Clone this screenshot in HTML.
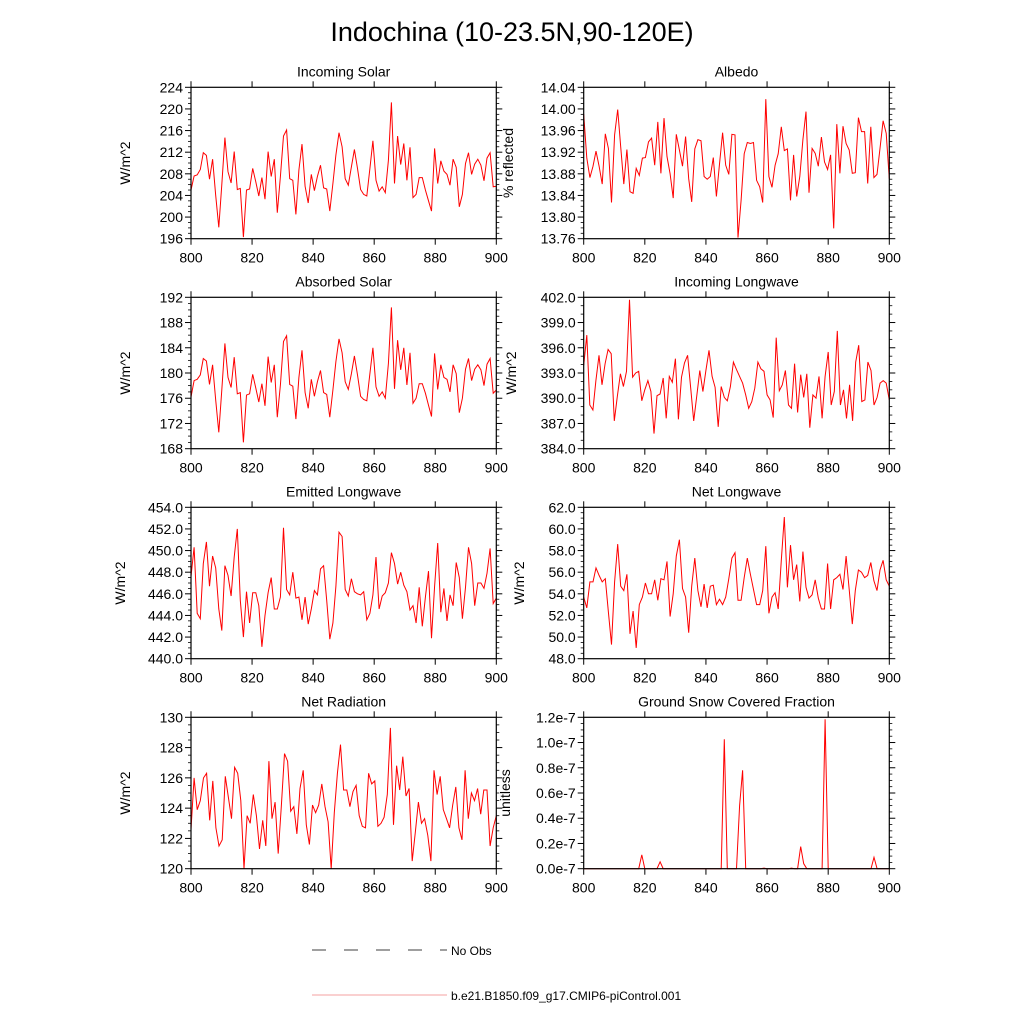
<!DOCTYPE html>
<html><head><meta charset="utf-8"><style>
html,body{margin:0;padding:0;background:#fff;}
svg{display:block;font-family:"Liberation Sans",sans-serif;}
</style></head><body>
<svg id="chart" width="1024" height="1024" viewBox="0 0 1024 1024">
<text x="512" y="41" font-size="27" text-anchor="middle">Indochina (10-23.5N,90-120E)</text>
<g>
<line x1="312" y1="950" x2="447" y2="950" stroke="#000" stroke-width="0.8" stroke-dasharray="14,18"/>
<text x="451" y="955" font-size="12">No Obs</text>
<line x1="312" y1="995" x2="447" y2="995" stroke="#f08080" stroke-width="0.8"/>
<text x="451" y="1000" font-size="12">b.e21.B1850.f09_g17.CMIP6-piControl.001</text>
</g>
</svg>
<script>
const xTicks=[800,820,840,860,880,900];
const incomingSolar=[205.0,207.6,207.8,208.8,211.9,211.4,207.0,210.7,204,198.1,206,214.7,208.4,206.3,212.1,205.1,205.3,196.3,205.0,205.2,209,206.5,203.9,207.3,203.3,212.1,207.5,210.7,200.8,207.5,215,216.1,207.1,206.8,200.5,208.7,213.5,205.7,202.6,207.9,204.9,207.5,209.6,205.4,205.2,201.1,206.2,211.5,215.6,213,207.1,205.9,209.3,212.5,209,205.1,204.2,203.9,209,214.1,206.8,204.8,205.6,204.5,210.5,221.2,206.2,215,209.7,213.6,206.8,212.9,203.6,204.2,207.3,207.3,205,203,201.1,212.7,206.2,210.4,208.5,207.9,205.9,210.7,209.2,201.9,204.2,209.9,211.9,207.9,209.8,210.7,209.6,206.7,210.9,211.9,205.6,205.7];
const albedo=[13.99,13.909,13.873,13.894,13.922,13.894,13.861,13.954,13.927,13.827,13.952,13.999,13.930,13.861,13.925,13.847,13.844,13.89,13.877,13.909,13.91,13.939,13.946,13.896,13.976,13.881,13.983,13.912,13.880,13.835,13.953,13.924,13.894,13.949,13.871,13.828,13.926,13.943,13.941,13.875,13.87,13.875,13.91,13.838,13.898,13.956,13.896,13.879,13.953,13.952,13.762,13.831,13.917,13.938,13.936,13.938,13.868,13.856,13.827,14.018,13.875,13.855,13.896,13.917,13.967,13.923,13.926,13.831,13.915,13.838,13.875,13.943,13.995,13.845,13.927,13.918,13.894,13.948,13.902,13.888,13.915,13.779,13.972,13.881,13.968,13.936,13.924,13.881,13.882,13.984,13.958,13.958,13.862,13.967,13.873,13.879,13.927,13.978,13.955,13.871];
const absorbedSolar=[176.2,178.8,179,179.7,182.3,181.9,178.2,181.3,175.7,170.6,177.3,184.7,179.3,177.7,182.5,176.7,176.9,169,176.5,176.7,179.8,177.6,175.4,178.3,174.8,182.6,178.5,181.3,173,178.1,185,185.9,178.2,177.9,172.7,179.3,183.6,176.9,174.4,179,176.3,178.6,180.4,176.9,176.6,173,177.3,181.8,185.4,183.2,178.6,177.4,179.9,182.7,179.7,176.3,175.8,175.6,179.9,184,177.8,176.3,177,176,181.5,190.4,177.5,185.2,180.5,184,178.1,183.2,175.2,176,178.3,178.3,176.8,174.9,173.1,183.1,177.4,181.3,179.3,179,177,181.3,179.9,173.7,176,180.6,182.3,178.8,180.6,181.3,180.5,178,181.4,182.3,176.8,177.3];
const incomingLW=[393.9,397.5,389.2,388.6,392.1,395.1,391.6,394.1,395.8,395.3,387.3,390.2,392.9,391.4,393.2,401.7,392.5,393,393.2,389.7,391,392.1,390.8,385.8,390.3,390.5,392.4,387.6,392.6,391.9,394.7,387.5,392.5,394.2,395.1,391.2,387.3,390.3,393.3,390.8,393.3,395.7,392.6,391.3,386.6,391.4,390.1,389.7,391.4,394.3,393.4,392.6,391.8,390.4,388.8,389.6,391.2,394.3,393.5,393.2,390.4,389.8,387.7,397.2,390.9,391.6,393.3,389.2,388.8,394.1,388.3,392.8,390.1,392.9,386.5,390.4,390,392.6,387.6,392.6,395.5,389.2,390.8,398,389.2,391,387.6,391.6,387.3,394.3,396.3,389.6,389.8,394.3,393.3,389.2,390.1,391.8,392.1,391.8,389.8];
const emittedLW=[447.6,450.3,444.2,443.7,448.8,450.8,446.7,449.5,448.4,444.6,442.6,448.6,447.7,445.8,449.4,452,445.4,442,446.2,443.3,446.1,446.1,444.9,441.1,444,446.1,447.5,444.6,444.6,445.7,452.1,446.4,445.9,448,445.6,445.7,443.6,445.7,443.2,444.6,446.3,445.9,448.3,448.6,445.4,441.8,443.3,446.7,451.7,451.3,446.4,445.8,447.4,446.2,446,445.9,446.2,443.6,444.2,445.9,449.4,444.6,445.8,446.1,447,449.8,448.8,446.9,448,446.8,446.2,444.5,444.9,443.3,446.6,443,445.7,448.1,441.9,446.7,450.7,444.3,446.5,443.5,445.9,444.9,448.9,447.5,443.7,446.6,450.3,448.8,444.9,447,447,446.5,447.9,450.2,445.1,445.6];
const netLW=[53.7,52.7,55.1,55.1,56.4,55.7,55.1,55.4,52.3,49.3,55.1,58.6,54.7,54.3,55.8,50.3,52.4,49,53,53.7,55,54,54,55.3,53.4,55.4,55.3,57,51.9,54,57.5,59,54.5,53.7,50.4,54.7,57.3,54.3,52.8,54.9,52.7,54.7,54.8,53,53.5,53,53.7,55.4,57.3,57.8,53.4,53.4,55.5,57.3,55.8,54.4,53,53,54.3,58.4,52.2,53.7,54.1,52.6,57.1,61.1,54.6,58.5,55.3,56.7,53.3,57.9,54.6,53.6,53.9,55.3,53.6,52.6,52.6,56.8,52.6,55.3,55.5,55.8,54.4,57.5,54.4,51.2,54.3,56.2,56,55.5,55.7,56.9,55.2,54.3,56.2,57.1,55.3,54.7];
const netRad=[122.6,126,123.9,124.5,126,126.3,123.2,125.8,122.7,121.5,121.9,126.1,124.7,123.3,126.7,126.3,124.5,120,123.5,123,124.9,123.5,121.3,123.2,121.5,127.1,123.3,124.4,121,124.1,127.6,127.1,123.8,124.1,122.3,125.3,126.5,122.9,121.6,124.2,123.7,124.2,125.6,124.1,123.1,120,123.7,126.3,128.2,125.2,125.2,124.1,125.1,125.5,123.5,122.8,122.7,126.3,125.6,125.8,122.8,123,123.4,124.9,129.3,122.9,126.8,125.2,127.4,124.8,125.3,120.5,122.4,124.4,123,123.3,122.2,120.5,126.5,124.9,126.1,123.9,123.3,122.7,124.2,125.4,122.7,121.9,126.5,123.3,125,124.5,125.3,123.6,125.2,125.2,121.5,122.7,123.5];
const snowFrac=[0,0,0,0,0,0,0,0,0,0,0,0,0,0,0,0,0,0,0,0.11,0,0,0,0,0,0.055,0,0,0,0,0,0,0,0,0,0,0,0,0,0,0,0,0,0,0,0,1.026,0,0,0,0,0.5,0.78,0,0,0,0,0,0,0.005,0,0,0,0,0,0,0,0,0.005,0,0,0.175,0.04,0,0,0,0,0,0,1.185,0,0,0,0,0,0,0,0,0,0,0,0,0,0,0,0.09,0,0,0,0,0];
const ticksIS=[196,200,204,208,212,216,220,224];
const ticksAL=["13.76","13.80","13.84","13.88","13.92","13.96","14.00","14.04"];
const ticksAS=[168,172,176,180,184,188,192];
const ticksIL=["384.0","387.0","390.0","393.0","396.0","399.0","402.0"];
const ticksEL=["440.0","442.0","444.0","446.0","448.0","450.0","452.0","454.0"];
const ticksNL=["48.0","50.0","52.0","54.0","56.0","58.0","60.0","62.0"];
const ticksNR=[120,122,124,126,128,130];
const ticksSN=["0.0e-7","0.2e-7","0.4e-7","0.6e-7","0.8e-7","1.0e-7","1.2e-7"];
const ticksSNval=[0,0.2,0.4,0.6,0.8,1.0,1.2];

const NS="http://www.w3.org/2000/svg";
const svg=document.getElementById('chart');
function mk(tag,attrs,parent){const e=document.createElementNS(NS,tag);for(const k in attrs)e.setAttribute(k,attrs[k]);(parent||svg).appendChild(e);return e;}
const cols=[[191,496.3],[583.7,889.3]];
const rows=[[87.3,238.7],[297.3,448.7],[507.3,658.7],[717.3,868.7]];
const panels=[
 {id:'incoming-solar',title:'Incoming Solar',yt:'W/m^2',data:incomingSolar,ticks:ticksIS,minor:4,c:0,r:0,ytx:130},
 {id:'albedo',title:'Albedo',yt:'% reflected',data:albedo,ticks:ticksAL,minor:4,c:1,r:0,ytx:513},
 {id:'absorbed-solar',title:'Absorbed Solar',yt:'W/m^2',data:absorbedSolar,ticks:ticksAS,minor:4,c:0,r:1,ytx:130},
 {id:'incoming-longwave',title:'Incoming Longwave',yt:'W/m^2',data:incomingLW,ticks:ticksIL,minor:3,c:1,r:1,ytx:516},
 {id:'emitted-longwave',title:'Emitted Longwave',yt:'W/m^2',data:emittedLW,ticks:ticksEL,minor:4,c:0,r:2,ytx:125},
 {id:'net-longwave',title:'Net Longwave',yt:'W/m^2',data:netLW,ticks:ticksNL,minor:4,c:1,r:2,ytx:524},
 {id:'net-radiation',title:'Net Radiation',yt:'W/m^2',data:netRad,ticks:ticksNR,minor:4,c:0,r:3,ytx:130},
 {id:'ground-snow',title:'Ground Snow Covered Fraction',yt:'unitless',data:snowFrac,ticks:ticksSN,tickVals:ticksSNval,minor:4,c:1,r:3,ytx:510}
];
panels.forEach(p=>{
 const [x0,x1]=cols[p.c],[y0,y1]=rows[p.r];
 const tv=p.tickVals?p.tickVals:p.ticks.map(t=>parseFloat(t));
 const ymin=tv[0],ymax=tv[tv.length-1];
 const xs=v=>x0+(v-800)/100*(x1-x0);
 const ys=v=>y1-(v-ymin)/(ymax-ymin)*(y1-y0);
 const g=mk('g',{});
 
 
 const t=mk('text',{x:(x0+x1)/2,y:y0-11,'font-size':14,'text-anchor':'middle'},g);
 t.textContent=p.title;
 
 
 const yt=mk('text',{x:p.ytx,y:(y0+y1)/2,'font-size':14,'text-anchor':'middle',transform:`rotate(-90 ${p.ytx} ${(y0+y1)/2})`},g);
 yt.textContent=p.yt;
 
 
 for(let i=0;i<tv.length;i++){
  const y=ys(tv[i]);
  mk('line',{x1:x0-6,y1:y,x2:x0,y2:y,stroke:'#000','stroke-width':1},g);
  mk('line',{x1:x1,y1:y,x2:x1+6,y2:y,stroke:'#000','stroke-width':1},g);
  const lb=mk('text',{x:x0-8,y:y+5,'font-size':14,'text-anchor':'end'},g);
  lb.textContent=p.ticks[i];
  
  
  if(i<tv.length-1){for(let m=1;m<p.minor;m++){const ym=ys(tv[i]+(tv[i+1]-tv[i])*m/p.minor);
   mk('line',{x1:x0-3,y1:ym,x2:x0,y2:ym,stroke:'#000','stroke-width':0.8},g);
   mk('line',{x1:x1,y1:ym,x2:x1+3,y2:ym,stroke:'#000','stroke-width':0.8},g);}}
 }
 xTicks.forEach(v=>{const x=xs(v);
  mk('line',{x1:x,y1:y1,x2:x,y2:y1+6,stroke:'#000','stroke-width':1},g);
  mk('line',{x1:x,y1:y0-6,x2:x,y2:y0,stroke:'#000','stroke-width':1},g);
  const lb=mk('text',{x:x,y:y1+24,'font-size':14,'text-anchor':'middle'},g);
  lb.textContent=v;
  
  
 });
 const n=p.data.length;
 const pts=p.data.map((v,i)=>xs(800+i*100/(n-1)).toFixed(1)+','+ys(v).toFixed(1)).join(' ');
 const pl=mk('polyline',{points:pts,fill:'none',stroke:'#ff0000','stroke-width':1},g);
 
 
 const fr=mk('rect',{x:x0,y:y0,width:x1-x0,height:y1-y0,fill:'none',stroke:'#000','stroke-width':1.2},g);
 
 
});
</script>
</body></html>
